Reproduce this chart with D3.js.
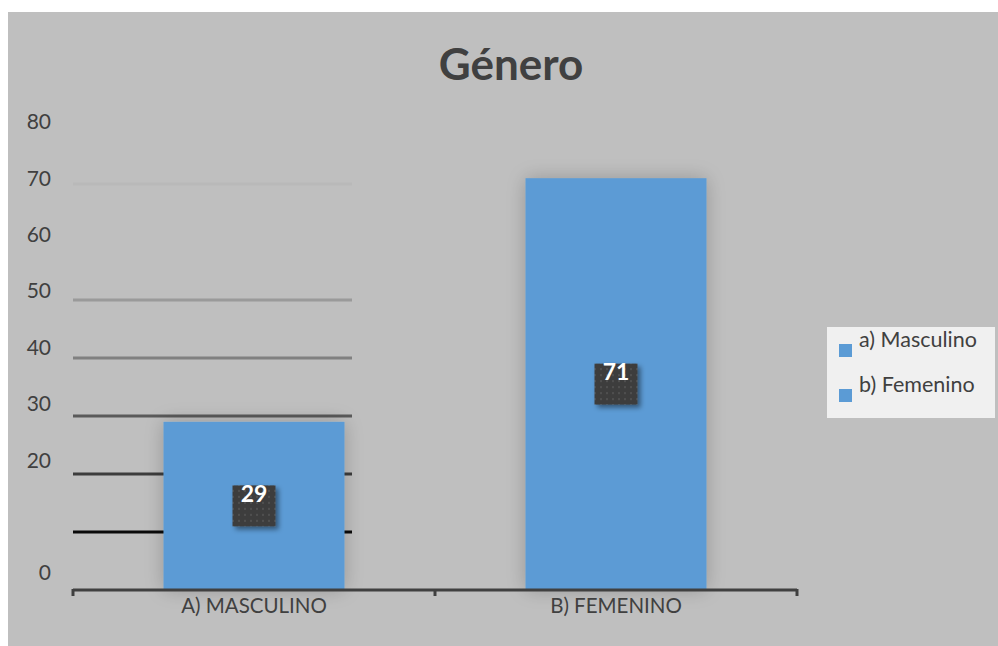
<!DOCTYPE html>
<html><head><meta charset="utf-8">
<script src="https://cdn.jsdelivr.net/npm/d3@7"></script>
<style>html,body{margin:0;padding:0;background:#fff;}svg{display:block;}</style>
</head><body>
<script>
const categories = ["A) MASCULINO", "B) FEMENINO"];
const seriesNames = ["a) Masculino", "b) Femenino"];
const values = [29, 71];
const tickLabels = [80, 70, 60, 50, 40, 30, 20, 0];
const gridValues = [70, 50, 40, 30, 20, 10];
const gridColors = ["#b9b9b9", "#9a9a9a", "#808080", "#5a5a5a", "#3c3c3c", "#0a0a0a"];
const title = "Género";

const W = 998, H = 646;
const font = "Lato, 'Open Sans', sans-serif";
const svg = d3.select("body").append("svg").attr("width", W).attr("height", H);

const defs = svg.append("defs");
const f = defs.append("filter").attr("id","glow").attr("x","-30%").attr("y","-30%").attr("width","160%").attr("height","160%");
f.append("feGaussianBlur").attr("in","SourceAlpha").attr("stdDeviation",10).attr("result","b");
f.append("feComponentTransfer").attr("in","b").attr("result","c").append("feFuncA").attr("type","linear").attr("slope",0.22);
const fm = f.append("feMerge"); fm.append("feMergeNode").attr("in","c"); fm.append("feMergeNode").attr("in","SourceGraphic");
const f2 = defs.append("filter").attr("id","lblsh").attr("x","-30%").attr("y","-30%").attr("width","170%").attr("height","170%");
f2.append("feDropShadow").attr("dx",3).attr("dy",3).attr("stdDeviation",2.5).attr("flood-color","#000").attr("flood-opacity",0.45);
const pat = defs.append("pattern").attr("id","dots").attr("width",6).attr("height",6).attr("patternUnits","userSpaceOnUse");
pat.append("rect").attr("width",6).attr("height",6).attr("fill","#3d3d3d");
pat.append("circle").attr("cx",3).attr("cy",3).attr("r",1).attr("fill","#555");

// background
svg.append("rect").attr("x",8).attr("y",12).attr("width",W-8).attr("height",H-12).attr("fill","#bfbfbf");

const y = d3.scaleLinear().domain([0, 80]).range([590, 126]);
const yLbl = d3.scaleLinear().domain([0, 80]).range([573, 122]);
const x = d3.scaleBand().domain(categories).range([73, 797]).paddingInner(0.5).paddingOuter(0.25);

// title
svg.append("text").attr("x", 511).attr("y", 80).attr("text-anchor","middle")
  .attr("font-family", font).attr("font-weight","bold").attr("font-size",44).attr("fill","#404040").text(title);

// gridlines (left portion)
svg.append("g").selectAll("line").data(gridValues).join("line")
  .attr("x1",73).attr("x2",352).attr("y1",d=>y(d)).attr("y2",d=>y(d))
  .attr("stroke",(d,i)=>gridColors[i]).attr("stroke-width",3);

// y tick labels
svg.append("g").selectAll("text").data(tickLabels).join("text")
  .attr("x",51).attr("y",d=>yLbl(d)).attr("dy","0.35em").attr("text-anchor","end")
  .attr("font-family",font).attr("font-size",21).attr("fill","#404040").text(d=>d);

// bars
svg.append("g").selectAll("rect").data(values).join("rect")
  .attr("x",(d,i)=>x(categories[i])).attr("width",x.bandwidth())
  .attr("y",d=>y(d)).attr("height",d=>y(0)-y(d))
  .attr("fill","#5b9bd5").attr("filter","url(#glow)");

// x axis
const xa = svg.append("g").attr("transform","translate(0,590)");
xa.append("line").attr("x1",73).attr("x2",797).attr("stroke","#404040").attr("stroke-width",3);
const tickXs = [73, (73+797)/2, 797];
xa.selectAll("line.t").data(tickXs).join("line").attr("class","t")
  .attr("x1",d=>d).attr("x2",d=>d).attr("y1",-1).attr("y2",6).attr("stroke","#404040").attr("stroke-width",3);
xa.selectAll("text").data(categories).join("text")
  .attr("x",d=>x(d)+x.bandwidth()/2).attr("y",23).attr("text-anchor","middle")
  .attr("font-family",font).attr("font-size",20.5).attr("fill","#404040").text(d=>d);

// data labels
const lbl = svg.append("g").selectAll("g").data(values).join("g")
  .attr("transform",(d,i)=>`translate(${x(categories[i])+x.bandwidth()/2},${(y(d)+y(0))/2})`);
lbl.append("rect").attr("x",-21.5).attr("y",-20.5).attr("width",43).attr("height",41)
  .attr("fill","url(#dots)").attr("filter","url(#lblsh)");
lbl.append("text").attr("x",0).attr("y",-4).attr("text-anchor","middle")
  .attr("font-family",font).attr("font-weight","bold").attr("font-size",23).attr("fill","#fff").text(d=>d);

// legend
const lg = svg.append("g");
lg.append("rect").attr("x",827).attr("y",327).attr("width",168).attr("height",91).attr("fill","#f0f0f0");
const li = lg.selectAll("g").data(seriesNames).join("g").attr("transform",(d,i)=>`translate(839,${344+i*45})`);
li.append("rect").attr("width",13).attr("height",13).attr("fill","#5b9bd5");
li.append("text").attr("x",20).attr("y",3).attr("font-family",font).attr("font-size",21.5).attr("fill","#404040").text(d=>d);
</script>
</body></html>
